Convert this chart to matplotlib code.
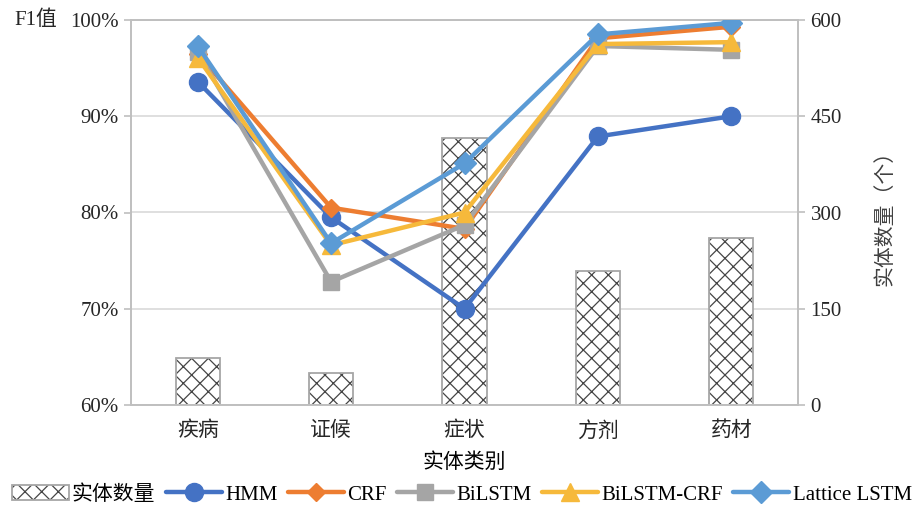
import numpy as np
import matplotlib
matplotlib.use('Agg')
import matplotlib.pyplot as plt
from matplotlib.ticker import FuncFormatter

plt.rcParams['font.family'] = ['Liberation Serif', 'Noto Sans CJK SC']
plt.rcParams['hatch.linewidth'] = 0.9

categories = ['疾病', '证候', '症状', '方剂', '药材']
entity_counts = [73, 50, 416, 209, 260]

hmm = [93.6, 79.5, 70.0, 87.9, 90.0]
crf = [96.5, 80.5, 78.3, 98.1, 99.3]
bilstm = [96.7, 72.8, 78.7, 97.3, 96.9]
bilstm_crf = [96.1, 76.6, 80.0, 97.5, 97.7]
lattice = [97.3, 76.8, 85.1, 98.5, 99.7]

series = [
    ('HMM', hmm, '#4472C4', 'o', 13),
    ('CRF', crf, '#ED7D31', 'D', 9),
    ('BiLSTM', bilstm, '#A5A5A5', 's', 12),
    ('BiLSTM-CRF', bilstm_crf, '#F6B93B', '^', 13),
    ('Lattice LSTM', lattice, '#5B9BD5', 'D', 11),
]

fig = plt.figure(figsize=(9.24, 5.09), dpi=100)
ax2 = fig.add_axes([131 / 924, 1 - 405 / 509, 667 / 924, 385 / 509])
ax = ax2.twinx()
# lines on top, bars below
ax.yaxis.tick_left()
ax.yaxis.set_label_position('left')
ax2.yaxis.tick_right()
ax2.yaxis.set_label_position('right')
ax.set_zorder(ax2.get_zorder() + 1)
ax.patch.set_visible(False)

x = np.arange(len(categories))
gray = '#BFBFBF'

# bars (right axis): dark hatch, then gray outline on top
bars_h = ax2.bar(x, entity_counts, width=0.33, color='white', edgecolor='#454545',
                 linewidth=0, hatch='xx', zorder=2)
bars_e = ax2.bar(x, entity_counts, width=0.33, fill=False, edgecolor='#A6A6A6',
                 linewidth=1.3, zorder=2.5)
ax2.set_ylim(0, 600)
ax2.set_yticks([0, 150, 300, 450, 600])
ax2.yaxis.grid(True, color='#D9D9D9', linewidth=1.2, zorder=0)
ax2.set_axisbelow(True)
ax2.set_ylabel('实体数量（个）', fontsize=15, color='#404040', labelpad=24)

# lines (left axis)
handles = [(bars_h, bars_e)]
labels = ['实体数量']
for name, vals, col, mk, ms in series:
    h, = ax.plot(x, vals, color=col, lw=3.2, marker=mk, markersize=ms,
                 label=name, solid_capstyle='round', zorder=3)
    handles.append(h)
    labels.append(name)
ax.set_ylim(60, 100)
ax.set_yticks([60, 70, 80, 90, 100])
ax.yaxis.set_major_formatter(FuncFormatter(lambda v, p: '%d%%' % v))
ax.set_xlim(-0.5, 4.5)

ax2.set_xticks(x)
ax2.set_xticklabels(categories, fontsize=15)
ax2.set_xlabel('实体类别', fontsize=15, labelpad=8)

for a in (ax, ax2):
    for s in a.spines.values():
        s.set_color(gray)
        s.set_linewidth(1.2)
    a.tick_params(axis='y', labelsize=15, color=gray, length=5, width=1.2,
                  labelcolor='#262626', pad=4)
ax2.tick_params(axis='x', length=0, labelcolor='#262626', pad=12)

fig.text(14 / 924, 1 - 20 / 509, 'F1值', fontsize=15, va='center', ha='left',
         color='#262626')

fig.legend(handles, labels, loc='lower center', bbox_to_anchor=(0.5, -0.012),
           ncol=6, frameon=False, fontsize=15, handlelength=2.7,
           handletextpad=0.15, columnspacing=0.5, borderaxespad=0.1)

fig.savefig('out.png', dpi=100)
